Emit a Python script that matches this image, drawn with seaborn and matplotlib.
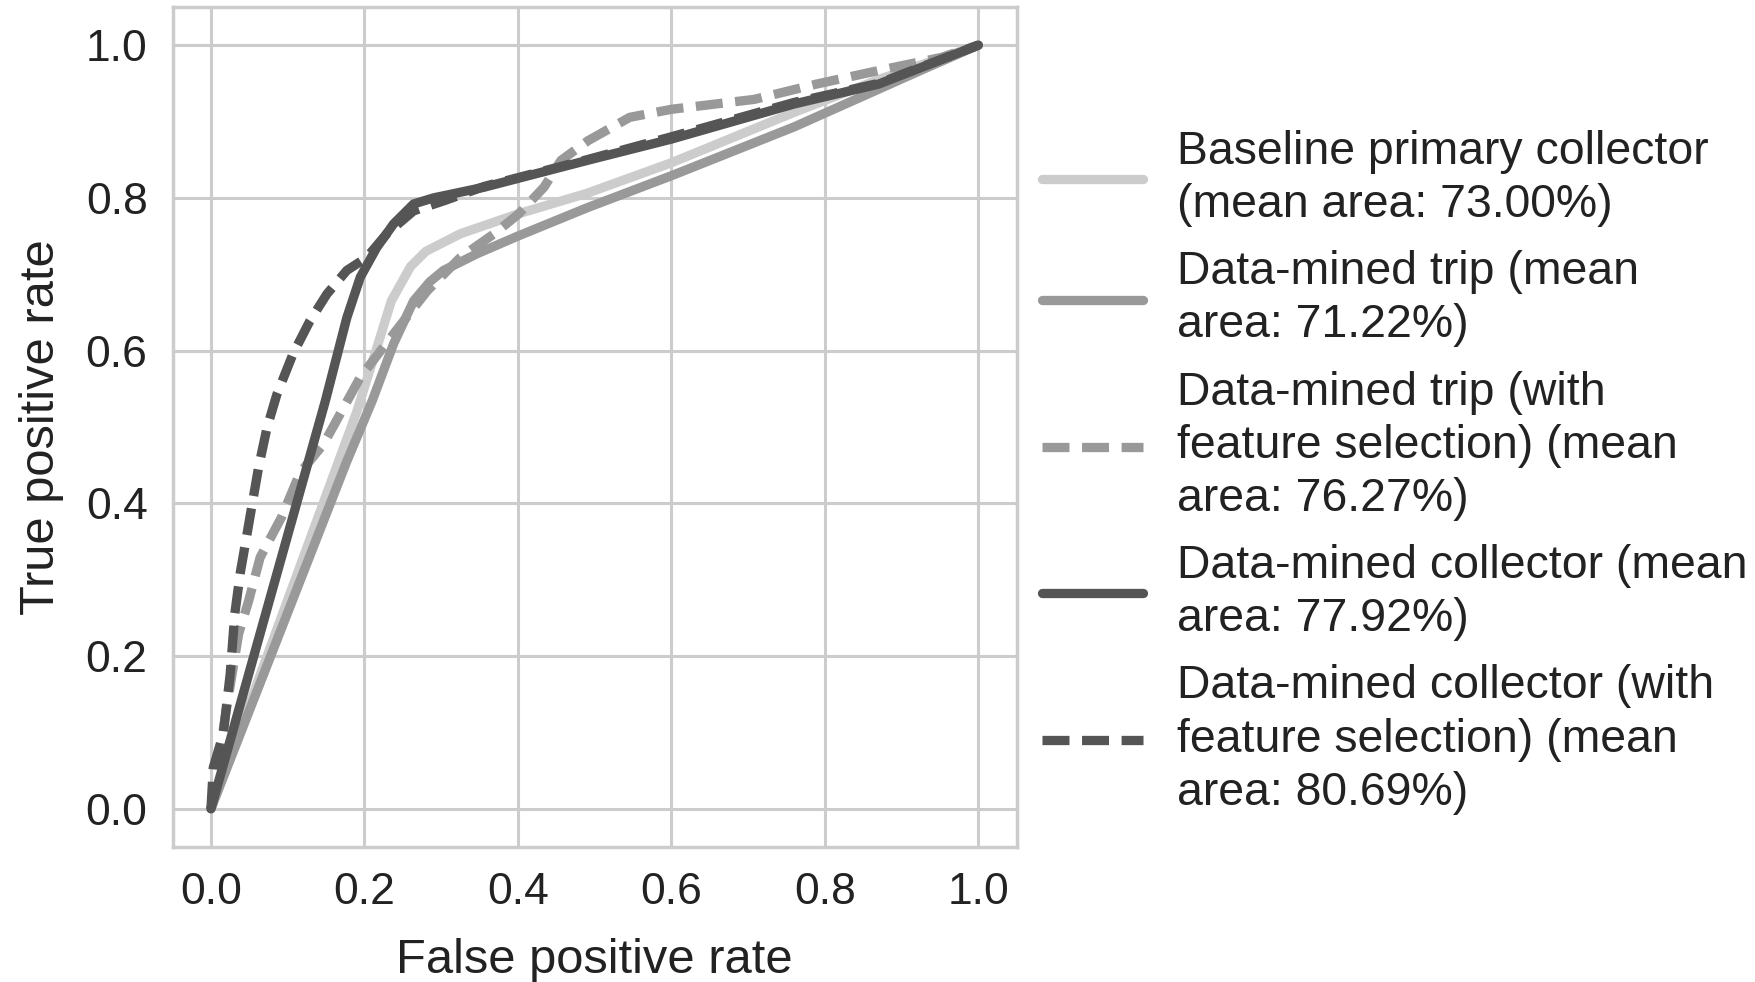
import matplotlib
matplotlib.use("Agg")
import matplotlib.pyplot as plt
import seaborn as sns
import pandas as pd

# ---- data ----
baseline_fpr = [0.0, 0.19, 0.215, 0.235, 0.26, 0.28, 0.325, 0.40, 0.49, 0.60, 0.76, 0.87, 1.0]
baseline_tpr = [0.0, 0.52, 0.60, 0.665, 0.71, 0.73, 0.753, 0.779, 0.806, 0.846, 0.912, 0.955, 1.0]

trip_fpr = [0.0, 0.177, 0.21, 0.238, 0.264, 0.285, 0.303, 0.347, 0.40, 0.49, 0.60, 0.76, 0.925, 1.0]
trip_tpr = [0.0, 0.455, 0.534, 0.609, 0.665, 0.69, 0.705, 0.727, 0.75, 0.787, 0.829, 0.893, 0.967, 1.0]

tripfs_fpr = [0.0, 0.02, 0.036, 0.049, 0.064, 0.092, 0.116, 0.147, 0.1945, 0.238, 0.2816, 0.325, 0.369,
              0.401, 0.434, 0.456, 0.4915, 0.5457, 0.60, 0.708, 0.789, 0.871, 0.952, 1.0]
tripfs_tpr = [0.0, 0.13, 0.229, 0.272, 0.329, 0.382, 0.44, 0.478, 0.565, 0.622, 0.678, 0.722, 0.753,
              0.779, 0.814, 0.849, 0.875, 0.9055, 0.916, 0.929, 0.949, 0.967, 0.984, 1.0]

coll_fpr = [0.0, 0.149, 0.177, 0.1945, 0.216, 0.238, 0.264, 0.29, 0.356, 0.49, 0.60, 0.76, 0.87, 1.0]
coll_tpr = [0.0, 0.534, 0.643, 0.696, 0.735, 0.766, 0.792, 0.80, 0.814, 0.849, 0.877, 0.923, 0.949, 1.0]

collfs_fpr = [0.0, 0.003, 0.016, 0.025, 0.031, 0.038, 0.047, 0.053, 0.062, 0.073, 0.086, 0.107, 0.129,
              0.151, 0.177, 0.203, 0.229, 0.264, 0.303, 0.356, 0.49, 0.60, 0.76, 0.87, 1.0]
collfs_tpr = [0.0, 0.054, 0.098, 0.176, 0.255, 0.308, 0.36, 0.395, 0.447, 0.499, 0.543, 0.596, 0.639,
              0.674, 0.705, 0.722, 0.753, 0.783, 0.796, 0.815, 0.85, 0.88, 0.925, 0.95, 1.0]

labels = [
    "Baseline primary collector\n(mean area: 73.00%)",
    "Data-mined trip (mean\narea: 71.22%)",
    "Data-mined trip (with\nfeature selection) (mean\narea: 76.27%)",
    "Data-mined collector (mean\narea: 77.92%)",
    "Data-mined collector (with\nfeature selection) (mean\narea: 80.69%)",
]
colors = ["#cccccc", "#999999", "#999999", "#555555", "#555555"]
dashed = [False, False, True, False, True]

series = [
    (baseline_fpr, baseline_tpr),
    (trip_fpr, trip_tpr),
    (tripfs_fpr, tripfs_tpr),
    (coll_fpr, coll_tpr),
    (collfs_fpr, collfs_tpr),
]

# ---- style ----
sns.set_theme(style="whitegrid")
plt.rcParams["font.family"] = ["Liberation Sans", "DejaVu Sans"]
plt.rcParams["grid.color"] = "#cccccc"
plt.rcParams["axes.edgecolor"] = "#cccccc"
plt.rcParams["text.color"] = "#222222"

DPI = 200
fig = plt.figure(figsize=(1756 / DPI, 982 / DPI), dpi=DPI)
ax = fig.add_axes([0.0983, 0.1375, 0.4807, 0.8554])

LW = 3.35
for (fx, ty), lab, col, dsh in zip(series, labels, colors, dashed):
    df = pd.DataFrame({"fpr": fx, "tpr": ty})
    sns.lineplot(data=df, x="fpr", y="tpr", ax=ax, color=col, lw=LW, label=lab,
                 sort=False, estimator=None,
                 linestyle=(0, (2.9, 1.35)) if dsh else "-")
for ln in ax.get_lines():
    ln.set_solid_capstyle("round")

ax.set_xlim(-0.05, 1.05)
ax.set_ylim(-0.05, 1.05)
ax.set_xticks([0.0, 0.2, 0.4, 0.6, 0.8, 1.0])
ax.set_yticks([0.0, 0.2, 0.4, 0.6, 0.8, 1.0])
ax.set_xlabel("False positive rate", fontsize=17.6, labelpad=9, color="#222222")
ax.set_ylabel("True positive rate", fontsize=17.6, labelpad=8, color="#222222")
ax.tick_params(axis="both", labelsize=16.0, pad=9, length=0, colors="#222222")
for sp in ax.spines.values():
    sp.set_linewidth(1.25)
    sp.set_color("#cccccc")
ax.grid(True, lw=1.1, color="#cccccc")

leg = ax.legend(loc="center left", bbox_to_anchor=(1.0, 0.446), frameon=False,
                fontsize=16.7, handlelength=2.17, handletextpad=0.73,
                labelspacing=0.5, borderaxespad=0.15)
for t in leg.get_texts():
    t.set_linespacing(1.27)

fig.savefig("out.png", dpi=DPI)
